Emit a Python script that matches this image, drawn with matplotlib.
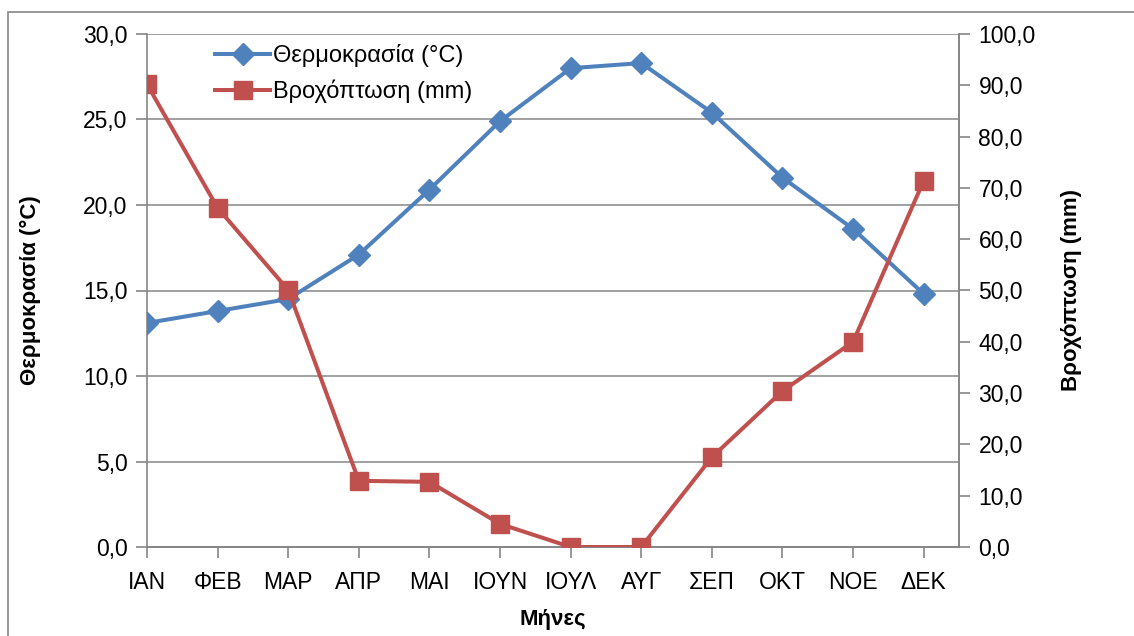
import matplotlib.pyplot as plt
from matplotlib.patches import Rectangle
from matplotlib.ticker import FuncFormatter, MultipleLocator

plt.rcParams['font.family'] = ['Liberation Sans', 'DejaVu Sans']

months = ["ΙΑΝ", "ΦΕΒ", "ΜΑΡ", "ΑΠΡ", "ΜΑΙ", "ΙΟΥΝ", "ΙΟΥΛ", "ΑΥΓ", "ΣΕΠ", "ΟΚΤ", "ΝΟΕ", "ΔΕΚ"]
temperature = [13.1, 13.8, 14.5, 17.1, 20.9, 24.9, 28.0, 28.3, 25.4, 21.6, 18.6, 14.8]
rainfall = [90.2, 66.1, 50.1, 12.9, 12.7, 4.5, 0.0, 0.0, 17.5, 30.4, 40.0, 71.4]

BLUE = "#4F81BD"
RED = "#C0504D"
GRAY = "#868686"

fig = plt.figure(figsize=(11.34, 6.36), dpi=100)
ax = fig.add_axes([147 / 1134, 1 - 547 / 636, (959 - 147) / 1134, (547 - 34) / 636])
ax2 = ax.twinx()

# outer chart frame (cut by the image edges on the right and bottom)
fig.patches.append(Rectangle((8 / 1134, -0.1), 1.2, 1 - 12 / 636 + 0.1,
                             transform=fig.transFigure, fill=False,
                             edgecolor=GRAY, linewidth=1.2))

x = list(range(len(months)))
l1, = ax.plot(x, temperature, color=BLUE, lw=2.9, marker="D", ms=11,
              label="Θερμοκρασία (°C)", zorder=3)
l2, = ax2.plot(x, rainfall, color=RED, lw=2.9, marker="s", ms=13,
               label="Βροχόπτωση (mm)", zorder=3)

ax.set_xlim(0, 11.5)
ax.set_ylim(0, 30)
ax2.set_ylim(0, 100)
ax.yaxis.set_major_locator(MultipleLocator(5))
ax2.yaxis.set_major_locator(MultipleLocator(10))
fmt = FuncFormatter(lambda v, p: f"{v:.1f}".replace(".", ","))
ax.yaxis.set_major_formatter(fmt)
ax2.yaxis.set_major_formatter(fmt)
ax.set_xticks(x)
ax.set_xticklabels(months)

ax.grid(axis="y", color=GRAY, lw=1.1)
ax.set_axisbelow(True)
for a in (ax, ax2):
    a.spines["top"].set_visible(False)
    for s in ("left", "right", "bottom"):
        a.spines[s].set_color(GRAY)
        a.spines[s].set_linewidth(1.2)
    a.tick_params(colors=GRAY, labelcolor="black", labelsize=16.5, length=8, width=1.2)
ax2.spines["left"].set_visible(False)
ax.tick_params(axis="x", pad=9)
ax.tick_params(axis="y", pad=6)
ax2.tick_params(axis="y", pad=6)

ax.set_ylabel("Θερμοκρασία (°C)", fontsize=16, fontweight="bold", va="center")
ax2.set_ylabel("Βροχόπτωση (mm)", fontsize=16, fontweight="bold", va="center")
ax.set_xlabel("Μήνες", fontsize=16, fontweight="bold", va="center")
ax.yaxis.set_label_coords(-0.144, 0.5)
ax2.yaxis.set_label_coords(1.139, 0.5)
ax.xaxis.set_label_coords(0.5, -0.142)

ax.legend(handles=[l1, l2], loc="upper left", bbox_to_anchor=(0.072, 0.998),
          frameon=False, fontsize=17, handlelength=2.35, handletextpad=0.1,
          labelspacing=0.5, borderaxespad=0)

fig.savefig("out.png", dpi=100)
